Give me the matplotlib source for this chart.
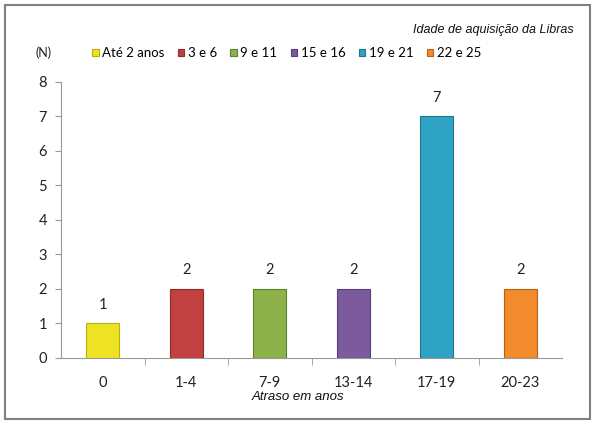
import matplotlib
matplotlib.use("Agg")
import matplotlib.pyplot as plt
from matplotlib.patches import Rectangle

categories = ["0", "1-4", "7-9", "13-14", "17-19", "20-23"]
values = [1, 2, 2, 2, 7, 2]
series_labels = ["Até 2 anos", "3 e 6", "9 e 11", "15 e 16", "19 e 21", "22 e 25"]
colors = ["#EDE322", "#C0413F", "#8DB24A", "#7B5A9E", "#2FA3C4", "#F28A2E"]
edges = ["#B8AE10", "#8E2E2C", "#617E30", "#573E75", "#1F7590", "#B86218"]
y_ticks = [0, 1, 2, 3, 4, 5, 6, 7, 8]

plt.rcParams['font.family'] = ['Lato', 'DejaVu Sans']

fig = plt.figure(figsize=(5.96, 4.25), dpi=100)
fig.patch.set_facecolor("white")
ax = fig.add_axes([61/596, 1-357.5/425, (562-61)/596, (357.5-81.7)/425])

x = list(range(len(categories)))
for i, (v, c, e, lab) in enumerate(zip(values, colors, edges, series_labels)):
    ax.bar(i, v, width=0.40, color=c, edgecolor=e, linewidth=0.8, label=lab, zorder=3)
    ax.annotate(str(v), (i, v), xytext=(0, 8), textcoords="offset points",
                ha="center", va="bottom", fontsize=10.5, color="#222222")

ax.set_xlim(-0.5, len(categories) - 0.5)
ax.set_ylim(0, 8)
ax.set_yticks(y_ticks)
ax.set_xticks(x)
ax.set_xticklabels(categories)
ax.set_xticks([i + 0.5 for i in range(len(categories) - 1)], minor=True)
ax.tick_params(axis="x", which="major", length=0, pad=13, labelsize=10.5, colors="#222222")
ax.tick_params(axis="x", which="minor", length=5, color="#999999", direction="out")
ax.tick_params(axis="y", length=4, color="#999999", labelsize=10.5, colors="#222222", pad=6)
for s in ["top", "right"]:
    ax.spines[s].set_visible(False)
ax.spines["left"].set_color("#999999")
ax.spines["bottom"].set_color("#999999")

fig.text(298/596, 1-397/425, "Atraso em anos", ha="center", va="center",
         fontsize=9.5, style="italic", family=["Liberation Sans", "DejaVu Sans"], color="#111111")
fig.text(574/596, 1-30/425, "Idade de aquisição da Libras", ha="right", va="center",
         fontsize=9, style="italic", family=["Liberation Sans", "DejaVu Sans"], color="#111111")
fig.text(44/596, 1-53/425, "(N)", ha="center", va="center", fontsize=9, color="#222222")

leg = ax.legend(ncol=6, loc="center left", bbox_to_anchor=(92/596, 1-53/425),
                bbox_transform=fig.transFigure, frameon=False, fontsize=9.5,
                handlelength=0.5, handleheight=0.5, handletextpad=0.25,
                columnspacing=1.02, borderpad=0, borderaxespad=0)

fig.patches.append(Rectangle((5/596, 1-419/425), 585/596, 414/425, transform=fig.transFigure,
                             fill=False, edgecolor="#808080", linewidth=1.5))

fig.savefig("out.png", dpi=100)
